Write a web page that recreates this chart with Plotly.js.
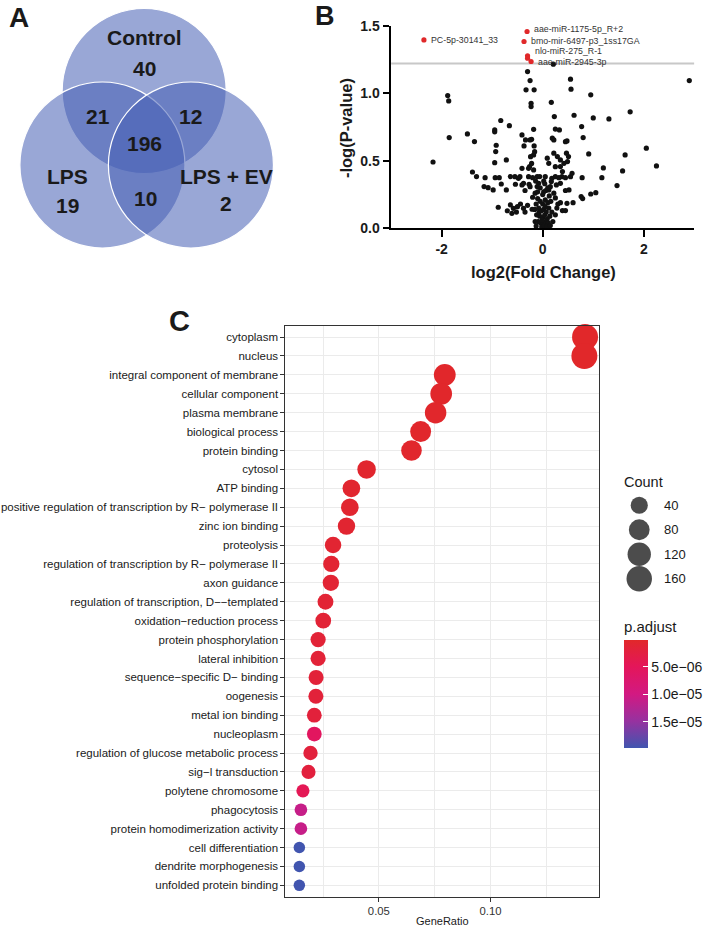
<!DOCTYPE html>
<html><head><meta charset="utf-8">
<script src="https://cdn.plot.ly/plotly-3.0.1.min.js"></script>
<style>html,body{margin:0;padding:0;background:#fff;}#chart{width:708px;height:926px;}</style>
</head><body><div id="chart"></div>
<script>
// ---------- Panel A: Venn ----------
const vennSets = ['Control', 'LPS', 'LPS + EV'];
const vennSetOnly = [40, 19, 2];            // Control only, LPS only, LPS + EV only
const vennPairs = [21, 12, 10];             // Control&LPS, Control&EV, LPS&EV
const vennAll = 196;

// ---------- Panel B: volcano ----------
const volcanoFC = [0.21,-0.30,-0.25,-0.33,-0.17,-0.23,-0.23,0.55,0.56,2.90,
0.17,0.95,1.73,1.31,1.00,0.62,0.23,-1.88,-1.86,-1.85,
-2.17,-1.49,-1.35,-0.83,-0.66,-0.95,-0.95,-0.92,-0.93,-0.95,
-0.72,-0.41,-0.34,-0.22,-0.18,-0.37,-0.17,-0.25,-0.16,-0.18,
0.25,0.19,0.22,0.45,0.77,0.80,0.33,0.48,2.05,2.25,
1.63,0.91,1.20,1.17,1.58,1.47,1.05,0.95,0.76,0.79,
0.78,0.47,0.51,0.49,0.29,0.12,0.35,0.39,0.09,0.22,
0.35,0.42,0.25,-1.39,-1.31,-1.14,-0.94,-0.86,-1.16,-1.08,
-0.98,-0.82,-0.72,-0.88,-0.64,-0.48,-0.41,-0.26,-0.41,-0.28,
-0.18,-0.55,-0.45,-0.28,-0.11,0.05,0.25,0.38,0.55,-0.20,
-0.06,0.18,0.32,0.45,0.58,-0.38,-0.25,-0.08,0.15,0.35,
-0.54,-0.27,0.17,0.27,-0.35,-0.15,0.02,0.22,0.45,-0.20,
-0.11,0.12,0.25,0.52,-0.64,-0.58,-0.44,-0.38,-0.21,-0.61,
-0.13,0.35,0.48,0.39,0.45,-0.50,-0.30,0.28,0.60,-0.10,
-0.05,0.00,0.05,0.10,-0.08,-0.03,0.02,0.07,0.12,-0.12,
-0.06,0.00,0.04,0.09,0.14,-0.09,-0.04,0.01,0.06,0.11,
-0.02,0.03,0.08,-0.07,0.13,-0.13,0.00,0.06,-0.05,0.16,
-0.16,0.18,-0.01,0.05,-0.10,0.10,0.02,-0.14,0.20,-0.70,
-0.52,-0.35,0.30,0.25,0.15,-0.15,0.04,-0.24,-0.22];
const volcanoLogP = [1.215,1.16,1.094,1.025,1.025,0.926,0.901,1.104,1.03,1.094,
0.933,0.988,0.862,0.81,0.817,0.837,0.827,0.983,0.943,0.672,
0.491,0.699,0.642,0.798,0.760,0.728,0.714,0.615,0.568,0.486,
0.506,0.691,0.654,0.659,0.733,0.610,0.610,0.654,0.567,0.543,
0.735,0.667,0.654,0.641,0.753,0.672,0.728,0.647,0.593,0.462,
0.543,0.551,0.447,0.375,0.425,0.316,0.264,0.254,0.235,0.220,
0.375,0.556,0.531,0.494,0.531,0.481,0.457,0.420,0.519,0.556,
0.506,0.481,0.456,0.417,0.383,0.375,0.375,0.375,0.309,0.301,
0.284,0.328,0.284,0.156,0.383,0.370,0.321,0.457,0.444,0.444,
0.432,0.382,0.382,0.382,0.382,0.382,0.382,0.382,0.382,0.375,
0.383,0.370,0.375,0.375,0.407,0.333,0.308,0.333,0.308,0.333,
0.326,0.326,0.346,0.321,0.28,0.26,0.27,0.26,0.28,0.23,
0.309,0.284,0.225,0.284,0.173,0.148,0.180,0.148,0.141,0.111,
0.017,0.190,0.185,0.131,0.131,0.16,0.17,0.15,0.19,0.22,
0.20,0.18,0.21,0.19,0.15,0.13,0.14,0.12,0.15,0.10,
0.09,0.08,0.10,0.07,0.09,0.05,0.04,0.03,0.05,0.04,
0.01,0.02,0.01,0.12,0.24,0.18,0.25,0.28,0.30,0.20,
0.14,0.12,0.06,0.16,0.27,0.30,0.35,0.35,0.05,0.13,
0.12,0.12,0.18,0.10,0.02,0.05,0.33,0.53,0.48];
const sigNames = ['aae-miR-1175-5p_R+2','bmo-mir-6497-p3_1ss17GA','PC-5p-30141_33','nlo-miR-275_R-1','','aae-miR-2945-3p'];
const sigFC = [-0.31,-0.37,-2.35,-0.30,-0.30,-0.23];
const sigLogP = [1.457,1.383,1.395,1.277,1.259,1.235];
const pThreshold = 1.22;
const volcanoXTicks = [-2, 0, 2];
const volcanoXTickText = ['-2', '0', '2'];

// ---------- Panel C: GO dot plot ----------
const goTerms = ['cytoplasm','nucleus','integral component of membrane','cellular component','plasma membrane',
'biological process','protein binding','cytosol','ATP binding','positive regulation of transcription by R\u2212 polymerase II',
'zinc ion binding','proteolysis','regulation of transcription by R\u2212 polymerase II','axon guidance','regulation of transcription, D\u2212\u2212templated',
'oxidation\u2212reduction process','protein phosphorylation','lateral inhibition','sequence\u2212specific D\u2212 binding','oogenesis',
'metal ion binding','nucleoplasm','regulation of glucose metabolic process','sig\u2212l transduction','polytene chromosome',
'phagocytosis','protein homodimerization activity','cell differentiation','dendrite morphogenesis','unfolded protein binding'];
const geneRatio = [0.1423,0.1420,0.0795,0.0779,0.0754,0.0687,0.0646,0.0445,0.0377,0.0370,
0.0355,0.0295,0.0287,0.0285,0.0261,0.0251,0.0228,0.0228,0.0219,0.0218,
0.0211,0.0211,0.0194,0.0185,0.0160,0.0151,0.0151,0.0144,0.0144,0.0144];
const geneCount = [171,170,95,93,90,82,78,53,45,44,43,35,34,34,31,30,27,27,26,26,25,25,23,22,19,18,18,17,17,17];
const pAdjust = [1.5e-7,2e-7,3e-7,3e-7,4e-7,4e-7,5e-7,6e-7,7e-7,8e-7,
9e-7,1.0e-6,1.1e-6,1.2e-6,1.3e-6,1.4e-6,1.5e-6,1.6e-6,1.7e-6,1.8e-6,
1.9e-6,5.6e-6,2.0e-6,2.2e-6,4.5e-6,1.1e-5,1.1e-5,1.98e-5,1.98e-5,1.98e-5];
const sizeLegendCounts = [40, 80, 120, 160];
const pTickVals = [5e-6, 1e-5, 1.5e-5];
const pTickText = ['5.0e\u221206', '1.0e\u221205', '1.5e\u221205'];

// ---------- helpers ----------
const W = 708, H = 926;
const px = x => x / W;
const py = y => 1 - y / H;
const FONT = 'Liberation Sans, Arial, Helvetica, sans-serif';
const cMinCount = Math.min(...geneCount), cMaxCount = Math.max(...geneCount);
const diam = c => 11.5 + 14.5 * Math.sqrt(Math.max(0, (c - cMinCount) / (cMaxCount - cMinCount)));
const pLo = Math.min(...pAdjust), pHi = Math.max(...pAdjust);
const colorscale = [[0,'rgb(65,85,175)'],[0.246,'rgb(150,50,160)'],[0.498,'rgb(210,25,130)'],[0.754,'rgb(228,22,90)'],[1,'rgb(225,40,42)']];

const traces = [
  {type:'scatter', mode:'markers', x: volcanoFC, y: volcanoLogP, xaxis:'x2', yaxis:'y2',
   marker:{size:5.2, color:'#111'}, cliponaxis:false, hoverinfo:'x+y'},
  {type:'scatter', mode:'markers', x: sigFC, y: sigLogP, xaxis:'x2', yaxis:'y2', text: sigNames,
   marker:{size:5.2, color:'#e0282a'}, cliponaxis:false},
  {type:'scatter', mode:'markers', x: geneRatio, y: goTerms, xaxis:'x3', yaxis:'y3', cliponaxis:false,
   marker:{size: geneCount.map(diam), sizemode:'diameter', color: pAdjust.map(p => -p),
     cmin: -pHi, cmax: -pLo, colorscale: colorscale, line:{width:0}, opacity:1,
     showscale:true,
     colorbar:{x: px(627.3), xanchor:'left', y: py(694.2), yanchor:'middle', len:108.3, lenmode:'pixels',
       thickness:24.4, thicknessmode:'pixels', xpad:0, ypad:0, outlinewidth:0,
       ticks:'inside', ticklen:5, tickcolor:'white', tickwidth:1,
       tickvals: pTickVals.map(v => -v), ticktext: pTickText,
       tickfont:{size:14, color:'#1a1a1a', family:FONT}}}},
  {type:'scatter', mode:'markers', x: sizeLegendCounts.map(() => 0.26), y: sizeLegendCounts.map(String),
   xaxis:'x4', yaxis:'y4', cliponaxis:false,
   marker:{size: sizeLegendCounts.map(diam), sizemode:'diameter', color:'#000', line:{width:0}}}
];

const vennCircles = [
  {cx:145, cy:91, r:82.5},
  {cx:103, cy:165, r:83},
  {cx:192, cy:165, r:83}
];
const shapes = vennCircles.map(c => ({type:'circle', xref:'x', yref:'y', x0:c.cx-c.r, x1:c.cx+c.r, y0:c.cy-c.r, y1:c.cy+c.r,
  fillcolor:'rgba(70,95,180,0.55)', line:{color:'white', width:1.2}, layer:'above'}));
shapes.push({type:'line', xref:'x2', yref:'y2', x0:-3, x1:3, y0:pThreshold, y1:pThreshold,
  line:{color:'#c8c8c8', width:2}, layer:'below'});

const ann = [];
const bold = (size, color) => ({family:FONT, size:size, color:color || '#1a1a1a', weight:'bold'});
const C = {xanchor:'center', yanchor:'middle', showarrow:false};
// panel letters
ann.push(Object.assign({text:'A', xref:'paper', yref:'paper', x:px(19), y:py(17), font:bold(28)}, C));
ann.push(Object.assign({text:'B', xref:'paper', yref:'paper', x:px(327), y:py(16), font:bold(27)}, C));
ann.push(Object.assign({text:'C', xref:'paper', yref:'paper', x:px(181), y:py(321), font:bold(29)}, C));
// venn text
const vennTitlePos = [[145.7,37.7],[68.3,176.7],[228,176.7]];
const vennOnlyPos = [[145.7,68.3],[68.3,205],[227.7,203.3]];
const vennPairPos = [[98.3,116.7],[191.7,116.7],[146.7,198.3]];
vennSets.forEach((s,i) => {
  ann.push(Object.assign({text:s, xref:'x', yref:'y', x:vennTitlePos[i][0], y:vennTitlePos[i][1], font:bold(21)}, C));
  ann.push(Object.assign({text:String(vennSetOnly[i]), xref:'x', yref:'y', x:vennOnlyPos[i][0], y:vennOnlyPos[i][1], font:bold(21)}, C));
  ann.push(Object.assign({text:String(vennPairs[i]), xref:'x', yref:'y', x:vennPairPos[i][0], y:vennPairPos[i][1], font:bold(21)}, C));
});
ann.push(Object.assign({text:String(vennAll), xref:'x', yref:'y', x:145, y:143.3, font:bold(21)}, C));
// volcano labels
const labelYShift = [3, 0, 0, 4.5, 0, -1];
sigNames.forEach((n,i) => {
  if (!n) return;
  ann.push({text:n, xref:'x2', yref:'y2', x:sigFC[i], y:sigLogP[i], xanchor:'left', yanchor:'middle', xshift:5, yshift:labelYShift[i],
    showarrow:false, font:{family:FONT, size:8.8, color:'#333'}});
});
ann.push(Object.assign({text:'-log(P-value)', xref:'paper', yref:'paper', x:px(348), y:py(128), textangle:-90, font:bold(16.5)}, C));
ann.push(Object.assign({text:'log2(Fold Change)', xref:'paper', yref:'paper', x:px(547), y:py(271.5), font:bold(16.5)}, C));
// dot plot titles
ann.push(Object.assign({text:'GeneRatio', xref:'paper', yref:'paper', x:px(444.6), y:py(920.5), font:{family:FONT, size:11, color:'#1a1a1a'}}, C));
ann.push({text:'Count', xref:'paper', yref:'paper', x:px(626), y:py(481.7), xanchor:'left', yanchor:'middle', showarrow:false, font:{family:FONT, size:14.5, color:'#1a1a1a'}});
ann.push({text:'p.adjust', xref:'paper', yref:'paper', x:px(626), y:py(626.7), xanchor:'left', yanchor:'middle', showarrow:false, font:{family:FONT, size:15, color:'#1a1a1a'}});
sizeLegendCounts.forEach((c,i) => {
  ann.push({text:String(c), xref:'x4', yref:'y4', x:0.52, y:i, xanchor:'left', yanchor:'middle', showarrow:false, font:{family:FONT, size:13, color:'#1a1a1a'}});
});

const hidden = {visible:false, showgrid:false, zeroline:false, fixedrange:true};
const layout = {
  width:W, height:H, autosize:false, margin:{l:0,r:0,t:0,b:0}, showlegend:false,
  paper_bgcolor:'#fff', plot_bgcolor:'rgba(0,0,0,0)', font:{family:FONT},
  xaxis: Object.assign({domain:[0, px(300)], range:[0,300], anchor:'y'}, hidden),
  yaxis: Object.assign({domain:[py(262), 1], range:[262,0], anchor:'x'}, hidden),
  xaxis2: {domain:[px(393.3), px(698.3)], range:[-3,3], anchor:'y2', showline:true, linecolor:'#000', linewidth:2,
    ticks:'outside', ticklen:7, tickwidth:2, tickcolor:'#000', tickvals:volcanoXTicks, ticktext:volcanoXTickText,
    tickfont:bold(14), showgrid:false, zeroline:false},
  yaxis2: {domain:[py(228.3), py(25.7)], range:[0,1.5], anchor:'x2', showline:true, linecolor:'#000', linewidth:2,
    ticks:'outside', ticklen:6.5, tickwidth:2, tickcolor:'#000', tick0:0, dtick:0.5, tickformat:'.1f',
    tickfont:bold(14), showgrid:false, zeroline:false},
  xaxis3: {domain:[px(287), px(602.3)], range:[0.00815, 0.1485], anchor:'y3', tick0:0, dtick:0.05, tickformat:'.2f',
    showgrid:true, gridcolor:'#ebebeb', gridwidth:1,
    minor:{tick0:0, dtick:0.025, showgrid:true, gridcolor:'#ebebeb', gridwidth:1, ticks:''},
    showline:true, mirror:true, linecolor:'#333', linewidth:1, ticks:'outside', ticklen:4, tickcolor:'#333',
    tickfont:{family:FONT, size:11.3, color:'#333'}, zeroline:false},
  yaxis3: {domain:[py(896.7), py(325.7)], type:'category', categoryorder:'array', categoryarray:goTerms,
    range:[goTerms.length - 1 + 0.6, -0.6], anchor:'x3', showgrid:true, gridcolor:'#ebebeb', gridwidth:1,
    showline:true, mirror:true, linecolor:'#333', linewidth:1, ticks:'outside', ticklen:4, tickcolor:'#333',
    tickfont:{family:FONT, size:11.5, color:'#1a1a1a'}, zeroline:false},
  xaxis4: Object.assign({domain:[px(620), 1], range:[0,1], anchor:'y4'}, hidden),
  yaxis4: Object.assign({domain:[py(591), py(493)], type:'category', categoryorder:'array',
    categoryarray:sizeLegendCounts.map(String), range:[3.5,-0.5], anchor:'x4'}, hidden),
  shapes: shapes,
  annotations: ann
};
Plotly.newPlot('chart', traces, layout, {displayModeBar:false, staticPlot:true});
</script></body></html>
